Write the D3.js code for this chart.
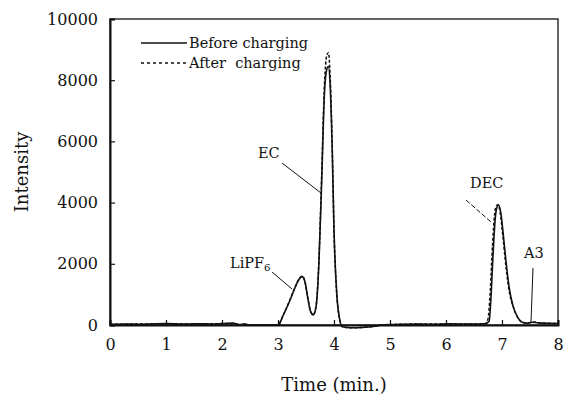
<!DOCTYPE html>
<html><head><meta charset="utf-8">
<script src="https://cdn.jsdelivr.net/npm/d3@7"></script>
<style>body{margin:0;background:#fff}svg{display:block}text{font-family:"DejaVu Serif","Liberation Serif",serif;fill:#111}</style>
</head><body><svg id="c" width="565" height="398"></svg>
<script>
const xTicks=[0,1,2,3,4,5,6,7,8];
const yTicks=[0,2000,4000,6000,8000,10000];
const seriesNames=["Before charging","After charging"];
const timeBefore=[0,0.3,0.5,0.8,1,1.3,1.5,1.8,2,2.2,2.28,2.33,2.4,2.5,2.8,3.0,3.1,3.2,3.3,3.38,3.43,3.48,3.53,3.58,3.63,3.68,3.73,3.78,3.83,3.87,3.9,3.93,3.97,4.0,4.05,4.1,4.15,4.3,4.5,4.7,4.9,5.2,5.5,5.8,6.1,6.4,6.7,6.77,6.8,6.84,6.88,6.91,6.94,6.98,7.02,7.07,7.13,7.2,7.28,7.36,7.45,7.55,7.7,8];
const valBefore=[20,30,25,40,45,30,40,35,45,60,20,10,40,0,0,0,350,750,1200,1500,1580,1420,900,450,330,600,2000,4700,7600,8350,8450,7900,5600,3100,1000,200,-60,-90,-80,-50,10,20,30,20,40,30,40,120,800,2300,3500,3850,3920,3650,3000,2100,1200,600,250,90,60,90,60,50];
const timeAfter=[0,0.5,1,1.5,2,2.5,3.0,3.1,3.2,3.3,3.38,3.43,3.48,3.53,3.58,3.63,3.68,3.73,3.78,3.83,3.87,3.9,3.93,3.97,4.0,4.05,4.1,4.15,4.3,4.5,4.7,4.9,5.5,6.1,6.7,6.75,6.79,6.83,6.87,6.9,6.93,6.97,7.01,7.06,7.12,7.2,7.28,7.36,7.45,7.55,7.7,8];
const valAfter=[20,30,40,35,45,0,0,350,760,1220,1520,1600,1430,920,460,340,620,2100,4900,7900,8800,8900,8200,5700,3100,1000,200,-60,-90,-80,-50,10,30,30,40,200,1100,2600,3650,3900,3930,3650,3000,2100,1200,600,250,90,60,100,60,50];
const annotations=[
 {label:"LiPF",sub:"6",lx:230,ly:268,x1:272,y1:272,x2:292,y2:289,dash:false},
 {label:"EC",lx:258,ly:158,x1:282,y1:163,x2:321,y2:193,dash:false},
 {label:"DEC",lx:470,ly:188,x1:466,y1:200,x2:491,y2:222,dash:true},
 {label:"A3",lx:524,ly:258,x1:533,y1:268,x2:531,y2:322,dash:false}
];

const svg=d3.select("#c");
const m={l:110,r:7,t:19,b:73};
const W=565,H=398;
const x=d3.scaleLinear().domain([0,8]).range([m.l,W-m.r]);
const y=d3.scaleLinear().domain([0,10000]).range([H-m.b,m.t]);

// frame
svg.append("rect").attr("x",m.l).attr("y",m.t).attr("width",W-m.r-m.l).attr("height",H-m.b-m.t)
 .attr("fill","none").attr("stroke","#111").attr("stroke-width",1.3);

const xa=svg.append("g").attr("transform",`translate(0,${H-m.b})`)
 .call(d3.axisBottom(x).tickValues(xTicks).tickSize(-5).tickPadding(14).tickFormat(d3.format("d")));
const ya=svg.append("g").attr("transform",`translate(${m.l},0)`)
 .call(d3.axisLeft(y).tickValues(yTicks).tickSize(-5).tickPadding(12).tickFormat(d3.format("d")));
[xa,ya].forEach(g=>{g.select(".domain").attr("stroke","#111").attr("stroke-width",2);
 g.selectAll("line").attr("stroke","#111").attr("stroke-width",1.2);
 g.selectAll("text").style("font-size","16px").attr("fill","#111");});

const line=d3.line().x(d=>x(d[0])).y(d=>y(d[1])).curve(d3.curveMonotoneX);
const before=timeBefore.map((t,i)=>[t,valBefore[i]]);
const after=timeAfter.map((t,i)=>[t,valAfter[i]]);
svg.append("path").datum(after).attr("d",line).attr("fill","none").attr("stroke","#111")
 .attr("stroke-width",1.5).attr("stroke-dasharray","3,2");
svg.append("path").datum(before).attr("d",line).attr("fill","none").attr("stroke","#111")
 .attr("stroke-width",1.6);

// legend
const lg=svg.append("g");
seriesNames.forEach((n,i)=>{
 const yy=43+i*20;
 lg.append("line").attr("x1",141).attr("x2",187).attr("y1",yy).attr("y2",yy)
  .attr("stroke","#111").attr("stroke-width",1.3).attr("stroke-dasharray",i? "3,3":null);
 lg.append("text").attr("x",189).attr("y",yy+5).style("font-size","14.5px").text(i?"After  charging":n).attr("xml:space","preserve");
});

// annotations
annotations.forEach(a=>{
 svg.append("line").attr("x1",a.x1).attr("y1",a.y1).attr("x2",a.x2).attr("y2",a.y2)
  .attr("stroke","#111").attr("stroke-width",1).attr("stroke-dasharray",a.dash?"5,2":null);
 const t=svg.append("text").attr("x",a.lx).attr("y",a.ly).style("font-size","14.5px").text(a.label);
 if(a.sub) t.append("tspan").attr("dy",3).style("font-size","10px").text(a.sub);
});

svg.append("text").attr("x",(m.l+W-m.r)/2-0).attr("y",391).attr("text-anchor","middle").style("font-size","18px").text("Time (min.)");
svg.append("text").attr("transform",`translate(28,${(m.t+H-m.b)/2}) rotate(-90)`).attr("text-anchor","middle").style("font-size","18px").text("Intensity");
</script></body></html>
